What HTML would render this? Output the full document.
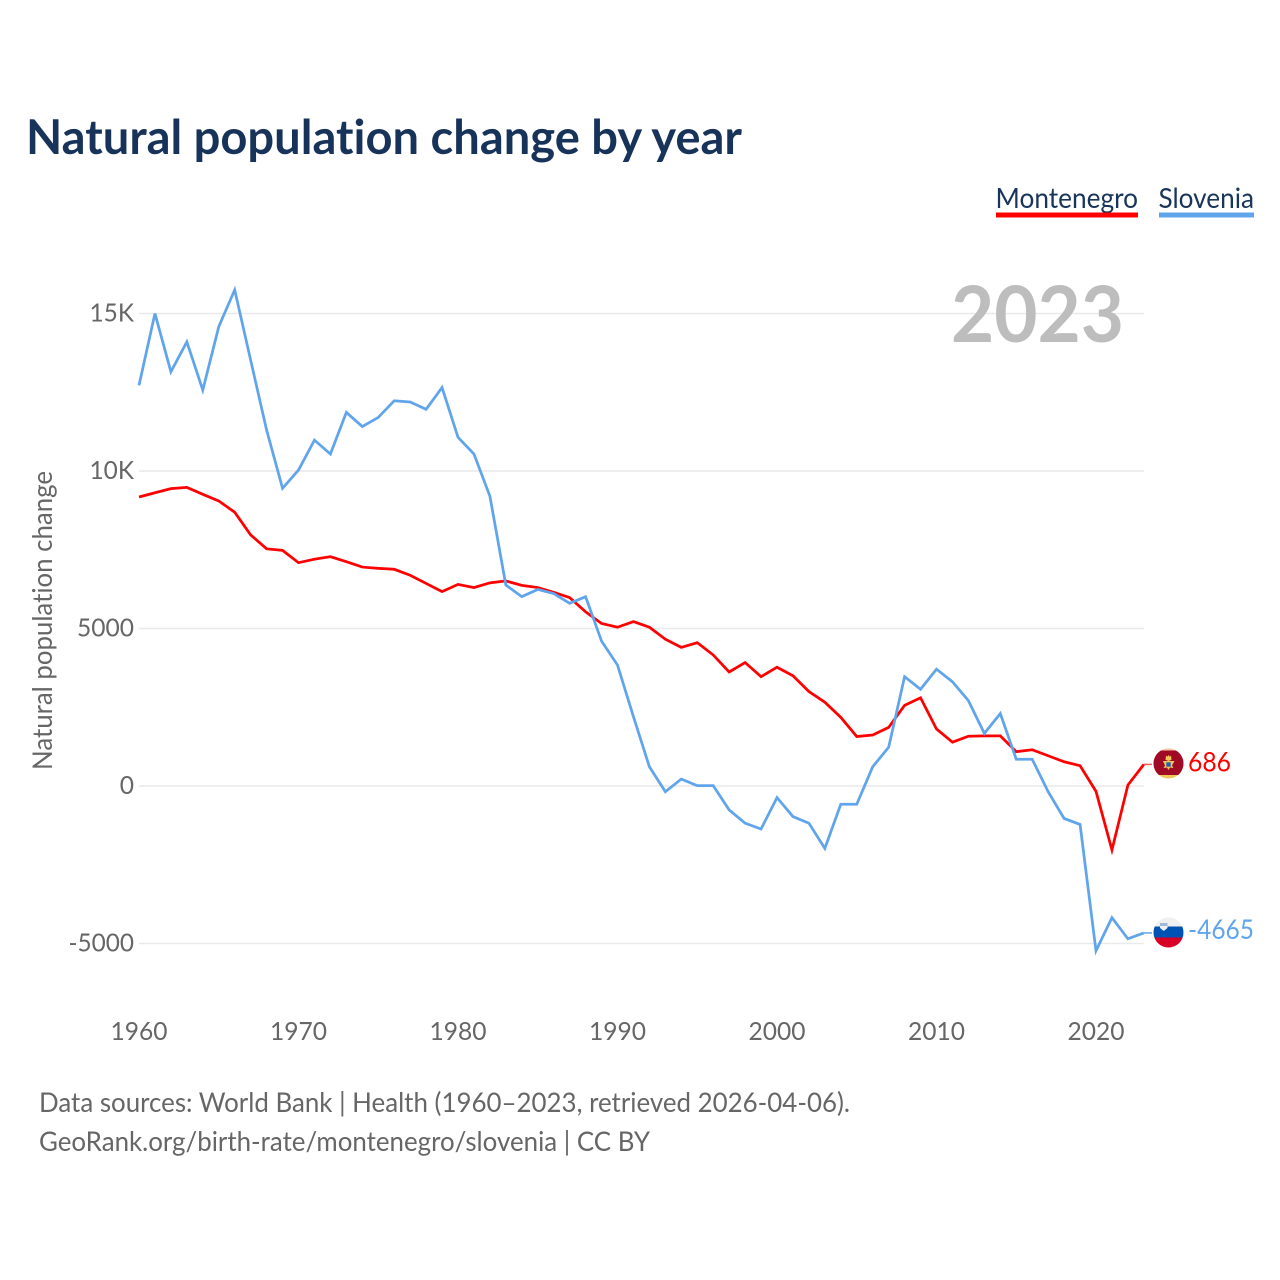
<!DOCTYPE html>
<html lang="en">
<head>
<meta charset="utf-8">
<title>Natural population change by year</title>
<style>
html,body{margin:0;padding:0;background:#fff;width:1280px;height:1280px;overflow:hidden}
svg{display:block}
text{font-family:"Lato","Carlito","Liberation Sans",sans-serif;font-variant-ligatures:none}
</style>
</head>
<body>
<svg id="chart" xmlns="http://www.w3.org/2000/svg" width="1280" height="1280" viewBox="0 0 1280 1280">
  <defs>
    <clipPath id="clip-me"><circle cx="1168.5" cy="763.5" r="15"/></clipPath>
    <clipPath id="clip-si"><circle cx="1168.5" cy="932.5" r="15"/></clipPath>
  </defs>
  <rect x="0" y="0" width="1280" height="1280" fill="#ffffff"/>
  <text x="26" y="154" font-size="48" font-weight="700" fill="#18335a" textLength="716" lengthAdjust="spacingAndGlyphs">Natural population change by year</text>

  <text x="995.500" y="208" font-size="28" fill="#19355a" textLength="142.500" lengthAdjust="spacingAndGlyphs">Montenegro</text>
  <rect x="996" y="212.500" width="142" height="5" fill="#ff0000"/>
  <text x="1158.500" y="208" font-size="28" fill="#19355a" textLength="95.500" lengthAdjust="spacingAndGlyphs">Slovenia</text>
  <rect x="1159" y="212.500" width="95" height="5" fill="#60a5ec"/>

  <text transform="translate(52,770) rotate(-90)" x="0" y="0" font-size="27" fill="#666666" textLength="299" lengthAdjust="spacingAndGlyphs">Natural population change</text>

  <g id="grid"></g>
  <g id="yticks"></g>
  <g id="xticks"></g>

  <text x="951" y="342" font-size="78" font-weight="700" fill="#bdbdbd" textLength="173" lengthAdjust="spacingAndGlyphs">2023</text>

  <g id="series"></g>

  <g clip-path="url(#clip-me)">
    <rect x="1153" y="748" width="31" height="31" fill="#f0c75a"/>
    <rect x="1153" y="748" width="31" height="2.500" fill="#f5c4a8"/>
    <rect x="1153" y="750.500" width="31" height="24.500" fill="#a00a25"/>
    <path d="M1166 755.500l1.300 1.300 1.200-1.800 1.200 1.800 1.300-1.300.5 4.500h-6z" fill="#f0c75a"/>
    <path d="M1163 761h3l2.500-1 2.500 1h3.500l-2.500 4.500 1.500 2.500-3.500-.5-1.500 2.500-1.500-2.500-3.500.5 1.500-2.500z" fill="#f0c75a"/>
    <rect x="1166.300" y="762.300" width="4.400" height="4.400" fill="#2a5ea8"/>
  </g>
  <g clip-path="url(#clip-si)">
    <rect x="1153" y="917" width="31" height="10" fill="#f0f0f0"/>
    <rect x="1153" y="926.500" width="31" height="11" fill="#0052b4"/>
    <rect x="1153" y="937.500" width="31" height="11" fill="#d80027"/>
    <path d="M1160 923h7.500v5l-3.750 3-3.750-3z" fill="#f0f0f0"/>
    <path d="M1160 923h7.500v3h-7.500z" fill="#0052b4" opacity="0.35"/>
  </g>

  <g id="endlabels"></g>

  <text x="39" y="1112" font-size="27.500" fill="#666666" textLength="811" lengthAdjust="spacingAndGlyphs">Data sources: World Bank | Health (1960–2023, retrieved 2026-04-06).</text>
  <text x="39" y="1151" font-size="27.500" fill="#666666" textLength="611" lengthAdjust="spacingAndGlyphs">GeoRank.org/birth-rate/montenegro/slovenia | CC BY</text>
</svg>
<script>
const firstYear = 1960;
const montenegro = [9175,9310,9440,9480,9260,9050,8690,7970,7530,7480,7090,7200,7280,7120,6950,6910,6880,6690,6430,6170,6400,6300,6450,6510,6370,6300,6150,5980,5530,5160,5040,5220,5040,4660,4400,4550,4160,3620,3920,3470,3770,3500,3000,2660,2180,1570,1620,1860,2560,2800,1810,1390,1580,1590,1590,1090,1150,960,770,645,-170,-2030,30,686];
const slovenia = [12720,15000,13150,14100,12570,14580,15750,13520,11300,9450,10030,10980,10540,11860,11410,11700,12230,12190,11960,12650,11070,10540,9200,6380,6010,6240,6110,5800,6010,4600,3840,2200,610,-180,220,10,10,-760,-1180,-1365,-370,-970,-1180,-1980,-580,-580,610,1230,3470,3070,3710,3310,2710,1670,2300,850,850,-180,-1030,-1220,-5230,-4180,-4850,-4665];
const yTickValues = [15000,10000,5000,0,-5000];
const yTickLabels = ['15K','10K','5000','0','-5000'];
const xTickYears = [1960,1970,1980,1990,2000,2010,2020];

const svgNS = 'http://www.w3.org/2000/svg';
const xScale = function (year) { return 139 + (year - 1960) * 15.95; };
const yScale = function (value) { return 786 - value * 0.0315; };
const labelWidth = function (label) {
  return label.split('').reduce(function (sum, ch) {
    return sum + (ch === '-' ? 8.5 : ch === 'K' ? 16 : 14.25);
  }, 0);
};
const gridG = document.getElementById('grid');
const yG = document.getElementById('yticks');
const xG = document.getElementById('xticks');
const seriesG = document.getElementById('series');
const endG = document.getElementById('endlabels');
const lastYear = firstYear + slovenia.length - 1;

yTickValues.forEach(function (v, i) {
  const line = document.createElementNS(svgNS, 'line');
  
  
  line.setAttribute('x1', xScale(firstYear));
  line.setAttribute('x2', xScale(lastYear));
  line.setAttribute('y1', yScale(v));
  line.setAttribute('y2', yScale(v));
  line.setAttribute('stroke', '#e9e9e9');
  line.setAttribute('stroke-width', '1.5');
  gridG.appendChild(line);
  const t = document.createElementNS(svgNS, 'text');
  
  
  t.setAttribute('x', 134);
  t.setAttribute('y', yScale(v) + 8);
  t.setAttribute('text-anchor', 'end');
  t.setAttribute('font-size', '25.5');
  t.setAttribute('fill', '#666666');
  t.setAttribute('textLength', labelWidth(yTickLabels[i]));
  t.setAttribute('lengthAdjust', 'spacingAndGlyphs');
  t.textContent = yTickLabels[i];
  yG.appendChild(t);
});

xTickYears.forEach(function (yr) {
  const t = document.createElementNS(svgNS, 'text');
  
  
  t.setAttribute('x', xScale(yr));
  t.setAttribute('y', 1040);
  t.setAttribute('text-anchor', 'middle');
  t.setAttribute('font-size', '25.5');
  t.setAttribute('fill', '#666666');
  t.setAttribute('textLength', '57');
  t.setAttribute('lengthAdjust', 'spacingAndGlyphs');
  t.textContent = String(yr);
  xG.appendChild(t);
});

function pointsFor(values) {
  return values.map(function (v, i) {
    return xScale(firstYear + i).toFixed(2) + ',' + yScale(v).toFixed(2);
  }).join(' ');
}

const montenegroLine = document.createElementNS(svgNS, 'polyline');


montenegroLine.setAttribute('points', pointsFor(montenegro));
montenegroLine.setAttribute('fill', 'none');
montenegroLine.setAttribute('stroke', '#ff0000');
montenegroLine.setAttribute('stroke-width', '2.75');
seriesG.appendChild(montenegroLine);

const sloveniaLine = document.createElementNS(svgNS, 'polyline');


sloveniaLine.setAttribute('points', pointsFor(slovenia));
sloveniaLine.setAttribute('fill', 'none');
sloveniaLine.setAttribute('stroke', '#60a5ec');
sloveniaLine.setAttribute('stroke-width', '2.75');
seriesG.appendChild(sloveniaLine);

const meLeader = document.createElementNS(svgNS, 'line');


meLeader.setAttribute('x1', xScale(lastYear));
meLeader.setAttribute('x2', 1152);
meLeader.setAttribute('y1', yScale(montenegro[montenegro.length - 1]));
meLeader.setAttribute('y2', yScale(montenegro[montenegro.length - 1]));
meLeader.setAttribute('stroke', '#ff5a5a');
meLeader.setAttribute('stroke-width', '1.5');
seriesG.appendChild(meLeader);

const siLeader = document.createElementNS(svgNS, 'line');


siLeader.setAttribute('x1', xScale(lastYear));
siLeader.setAttribute('x2', 1152);
siLeader.setAttribute('y1', yScale(slovenia[slovenia.length - 1]));
siLeader.setAttribute('y2', yScale(slovenia[slovenia.length - 1]));
siLeader.setAttribute('stroke', '#60a5ec');
siLeader.setAttribute('stroke-width', '1.5');
seriesG.appendChild(siLeader);

const meEnd = document.createElementNS(svgNS, 'text');


meEnd.setAttribute('x', 1188);
meEnd.setAttribute('y', yScale(montenegro[montenegro.length - 1]) + 7);
meEnd.setAttribute('font-size', '27');
meEnd.setAttribute('fill', '#ff0000');
meEnd.setAttribute('textLength', '43');
meEnd.setAttribute('lengthAdjust', 'spacingAndGlyphs');
meEnd.textContent = String(montenegro[montenegro.length - 1]);
endG.appendChild(meEnd);

const siEnd = document.createElementNS(svgNS, 'text');


siEnd.setAttribute('x', 1188);
siEnd.setAttribute('y', yScale(slovenia[slovenia.length - 1]) + 6);
siEnd.setAttribute('font-size', '27');
siEnd.setAttribute('fill', '#60a5ec');
siEnd.setAttribute('textLength', '66');
siEnd.setAttribute('lengthAdjust', 'spacingAndGlyphs');
siEnd.textContent = String(slovenia[slovenia.length - 1]);
endG.appendChild(siEnd);
</script>
</body>
</html>
